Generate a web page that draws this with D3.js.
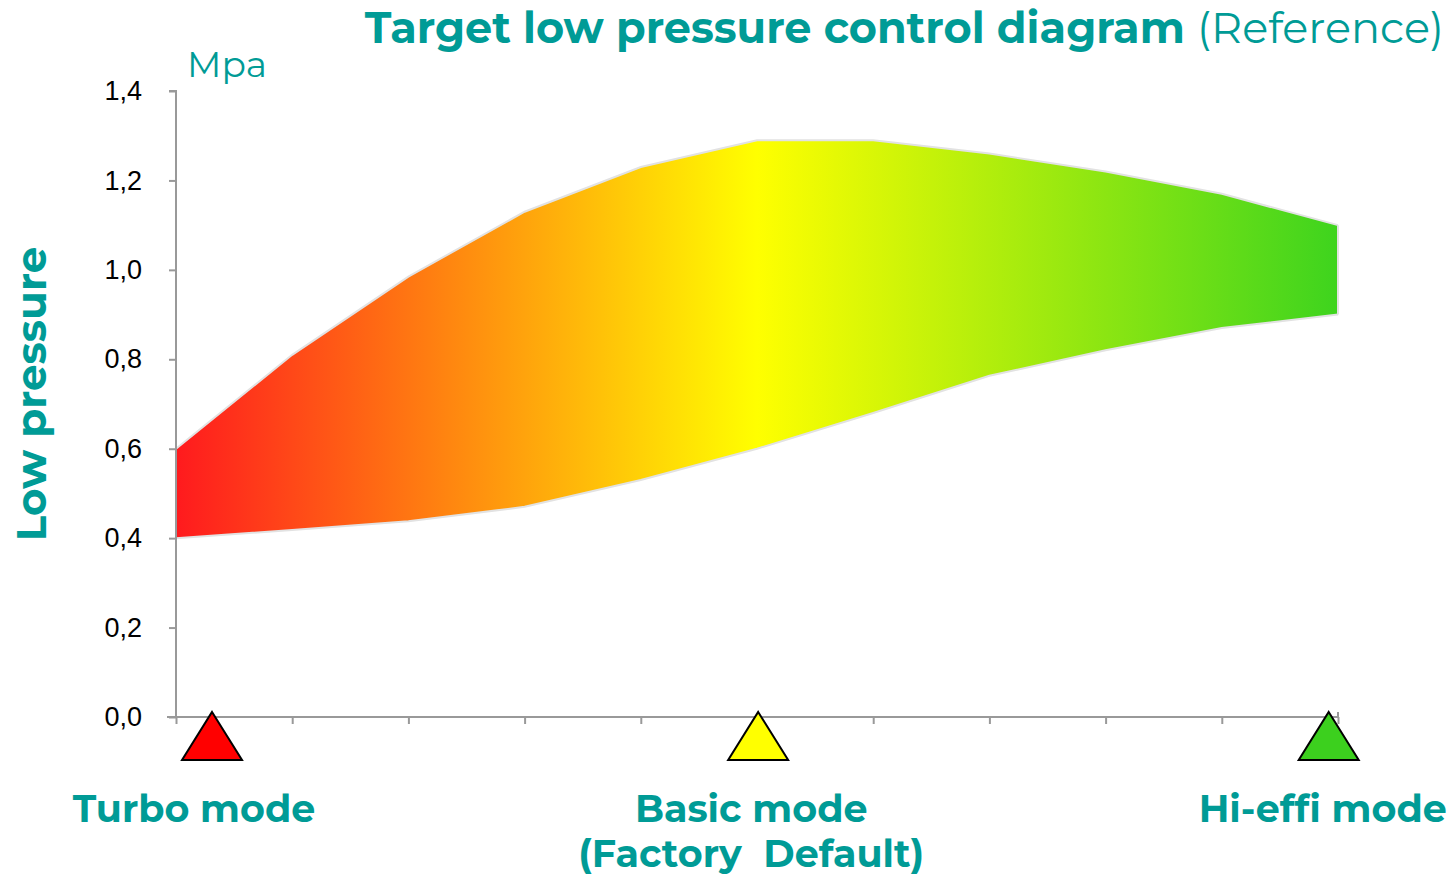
<!DOCTYPE html>
<html>
<head>
<meta charset="utf-8">
<script src="https://cdn.jsdelivr.net/npm/d3@7"></script>
<style>
  html, body { margin: 0; padding: 0; background: #fff; }
  svg { display: block; }
</style>
</head>
<body>
<svg id="chart"></svg>
<script>
// Low pressure band
const steps = [0, 1, 2, 3, 4, 5, 6, 7, 8, 9, 10];
const upper = [0.60, 0.81, 0.985, 1.13, 1.23, 1.29, 1.29, 1.26, 1.22, 1.17, 1.10];
const lower = [0.40, 0.418, 0.438, 0.47, 0.53, 0.60, 0.68, 0.763, 0.82, 0.87, 0.90];
const yTicks = [0, 0.2, 0.4, 0.6, 0.8, 1.0, 1.2, 1.4];

const modes = ["Turbo mode", "Basic mode", "Hi-effi mode"];
const modePos = [0.31, 5.01, 9.92];
const modeColors = ["#ff0000", "#ffff00", "#3cd01e"];

const teal = "#009b96";
const width = 1455, height = 877;

const svg = d3.select("#chart")
    .attr("width", width)
    .attr("height", height);

const x = d3.scaleLinear().domain([0, 10]).range([176, 1338]);
const y = d3.scaleLinear().domain([0, 1.4]).range([717, 91]);

// gradient red -> yellow -> green along x
const grad = svg.append("defs").append("linearGradient")
    .attr("id", "band")
    .attr("gradientUnits", "userSpaceOnUse")
    .attr("x1", x(0)).attr("x2", x(10))
    .attr("y1", 0).attr("y2", 0);
grad.append("stop").attr("offset", "0%").attr("stop-color", "#ff1a1e");
grad.append("stop").attr("offset", "50%").attr("stop-color", "#ffff00");
grad.append("stop").attr("offset", "100%").attr("stop-color", "#3ed41e");

const band = steps.map((s, i) => ({ s, lo: lower[i], hi: upper[i] }));

const area = d3.area()
    .x(d => x(d.s))
    .y0(d => y(d.lo))
    .y1(d => y(d.hi));

svg.append("path")
    .datum(band)
    .attr("d", area)
    .attr("fill", "url(#band)");

// soft outlines
const lineHi = d3.line().x(d => x(d.s)).y(d => y(d.hi));
const lineLo = d3.line().x(d => x(d.s)).y(d => y(d.lo));
[lineHi, lineLo].forEach(l => {
    svg.append("path")
        .datum(band)
        .attr("d", l)
        .attr("fill", "none")
        .attr("stroke", "#e2e2e2")
        .attr("stroke-width", 2);
});
svg.append("line")
    .attr("x1", x(10)).attr("x2", x(10))
    .attr("y1", y(upper[10])).attr("y2", y(lower[10]))
    .attr("stroke", "#e2e2e2").attr("stroke-width", 2);

// axes
const yAxis = svg.append("g")
    .attr("transform", `translate(${x(0)},0)`)
    .call(d3.axisLeft(y).tickValues(yTicks).tickSize(7).tickPadding(27)
        .tickFormat(d => d3.format(".1f")(d).replace(".", ",")));
yAxis.select(".domain").attr("stroke", "#999").attr("stroke-width", 2)
    .attr("d", `M-7,${y(1.4)}H0V${y(0)}`);
yAxis.selectAll(".tick line").attr("stroke", "#999").attr("stroke-width", 2);
yAxis.selectAll(".tick text")
    .attr("fill", "#000")
    .style("font-family", "Arial, 'Liberation Sans', sans-serif")
    .style("font-size", "27px");

const xAxis = svg.append("g")
    .attr("transform", `translate(0,${y(0)})`)
    .call(d3.axisBottom(x).tickValues(steps).tickSize(7).tickFormat(""));
xAxis.select(".domain").attr("stroke", "#999").attr("stroke-width", 2)
    .attr("d", `M${x(0) - 9},0H${x(10)}V-5`);
xAxis.selectAll(".tick line").attr("stroke", "#999").attr("stroke-width", 2);

// mode markers
const tri = (cx) => {
    const top = y(0) - 5, base = y(0) + 43, half = 30;
    return `M${cx},${top}L${cx + half},${base}L${cx - half},${base}Z`;
};
svg.selectAll(".marker")
    .data(modePos)
    .enter().append("path")
    .attr("class", "marker")
    .attr("d", d => tri(x(d)))
    .attr("fill", (d, i) => modeColors[i])
    .attr("stroke", "#000")
    .attr("stroke-width", 2)
    .attr("stroke-linejoin", "miter");

// mode labels
const labelFont = "Montserrat, 'Open Sans', 'DejaVu Sans', sans-serif";
const labelDx = [-18, -7, -6];
svg.selectAll(".mode-label")
    .data(modes)
    .enter().append("text")
    .attr("class", "mode-label")
    .attr("x", (d, i) => x(modePos[i]) + labelDx[i])
    .attr("y", 822)
    .attr("text-anchor", "middle")
    .attr("fill", teal)
    .style("font-family", labelFont)
    .style("font-weight", "bold")
    .style("font-size", "38px")
    .text(d => d);
svg.append("text")
    .attr("x", x(modePos[1]) + labelDx[1])
    .attr("y", 867)
    .attr("text-anchor", "middle")
    .attr("fill", teal)
    .attr("xml:space", "preserve")
    .style("font-family", labelFont)
    .style("font-weight", "bold")
    .style("font-size", "38px")
    .text("(Factory  Default)");

// title
const title = svg.append("text")
    .attr("x", 1444)
    .attr("y", 43)
    .attr("text-anchor", "end")
    .attr("fill", teal)
    .style("font-family", labelFont)
    .style("font-size", "43px");
title.append("tspan").style("font-weight", "bold").text("Target low pressure control diagram ");
title.append("tspan").style("font-weight", "normal").text("(Reference)");

// unit
svg.append("text")
    .attr("x", 187)
    .attr("y", 77)
    .attr("fill", teal)
    .style("font-family", labelFont)
    .style("font-size", "36px")
    .text("Mpa");

// y axis title
svg.append("text")
    .attr("transform", `translate(46,394) rotate(-90)`)
    .attr("text-anchor", "middle")
    .attr("fill", teal)
    .style("font-family", labelFont)
    .style("font-weight", "bold")
    .style("font-size", "42px")
    .text("Low pressure");
</script>
</body>
</html>
